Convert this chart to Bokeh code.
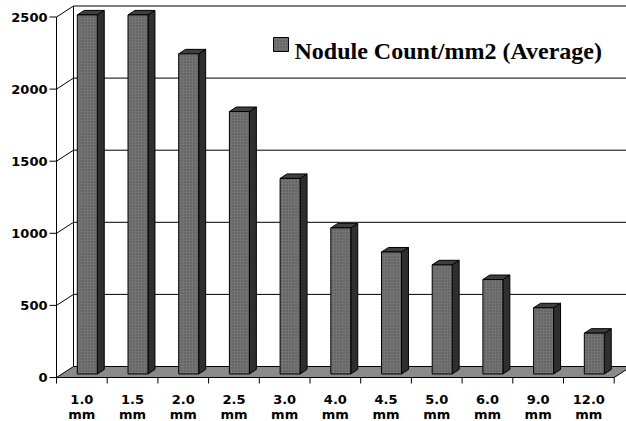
from bokeh.plotting import figure
from bokeh.models import Range1d
from bokeh.core.properties import value
from bokeh.embed import file_html
from bokeh.resources import INLINE

# ---- data ----
categories = ["1.0", "1.5", "2.0", "2.5", "3.0", "4.0", "4.5", "5.0", "6.0", "9.0", "12.0"]
unit_label = "mm"
nodule_count = [2490, 2490, 2220, 1820, 1356, 1013, 846, 757, 655, 459, 283]
y_ticks = [0, 500, 1000, 1500, 2000, 2500]
y_tick_labels = ["0", "500", "1000", "1500", "2000", "2500"]
series_name = "Nodule Count/mm2 (Average)"

# ---- layout constants (pixel geometry of the 3D frame) ----
W, H = 626, 421
X0, Y0 = 56, 377          # front-left corner of the floor (pixels)
SW = 50.7                 # pixels per category slot
K = 0.1442                # pixels per value unit
DX = 17 / SW              # depth offset (slots)
DY = 11 / K               # depth offset (value units)
F0, F1 = 0.32, 0.73       # bar front/back depth fractions
HW = 0.197                # half bar width (slots)
VMAX = y_ticks[-1]
n = len(categories)

def X(px):
    return (px - X0) / SW

def Y(py):
    return (Y0 - py) / K

p = figure(width=W, height=H, output_backend="svg", toolbar_location=None,
           x_range=Range1d(X(0), X(W)), y_range=Range1d(Y(H), Y(0)),
           x_axis_type=None, y_axis_type=None, min_border=0,
           min_border_left=0, min_border_right=0, min_border_top=0, min_border_bottom=0)
p.outline_line_color = None
p.background_fill_color = "white"
p.border_fill_color = "white"

# ---- back wall gridlines and left wall diagonals ----
gx, gy = [], []
for v in y_ticks[1:]:
    gx.append([DX, n + DX + 1]); gy.append([v + DY, v + DY])
    gx.append([0, DX]); gy.append([v, v + DY])
gx.append([DX, DX]); gy.append([DY, VMAX + DY])
gx.append([n + DX, n + DX]); gy.append([DY, VMAX + DY])
p.multi_line(gx, gy, line_color="black", line_width=1)

# ---- floor ----
p.patch([0, n, n + DX, DX], [0, 0, DY, DY], fill_color="#8a8a8a",
        line_color="black", line_width=1)

# ---- bars ----
fx, fy, sx, sy, tx, ty = [], [], [], [], [], []
for i, v in enumerate(nodule_count):
    xl, xr = i + 0.5 - HW, i + 0.5 + HW
    ax, ay = F0 * DX, F0 * DY
    bx, by = F1 * DX, F1 * DY
    fx.append([xl + ax, xr + ax, xr + ax, xl + ax])
    fy.append([ay, ay, v + ay, v + ay])
    sx.append([xr + ax, xr + bx, xr + bx, xr + ax])
    sy.append([ay, by, v + by, v + ay])
    tx.append([xl + ax, xr + ax, xr + bx, xl + bx])
    ty.append([v + ay, v + ay, v + by, v + by])
p.patches(sx, sy, fill_color="#2f2f2f", line_color="black", line_width=1)
p.patches(tx, ty, fill_color="#3f3f3f", line_color="black", line_width=1)
p.patches(fx, fy, fill_color="#747474", hatch_pattern="dot", hatch_color="#505050",
          hatch_scale=3, hatch_weight=1, line_color="black", line_width=1)

# ---- front value axis ----
p.line([0, 0], [0, VMAX], line_color="black", line_width=1)
p.segment(x0=[X(X0 - 7)] * len(y_ticks), y0=y_ticks, x1=[0] * len(y_ticks), y1=y_ticks,
          line_color="black", line_width=1)
p.text(x=[X(47)] * len(y_ticks), y=y_ticks, text=y_tick_labels,
       text_font=value("DejaVu Sans"), text_font_style="bold", text_font_size="13px",
       text_align="right", text_baseline="middle", text_color="black")

# ---- category axis ----
p.segment(x0=list(range(n + 1)), y0=[0] * (n + 1), x1=list(range(n + 1)),
          y1=[Y(Y0 + 6)] * (n + 1), line_color="black", line_width=1)
centers = [i + 0.5 for i in range(n)]
p.text(x=centers, y=[Y(399)] * n, text=categories,
       text_font=value("DejaVu Sans"), text_font_style="bold", text_font_size="13px",
       text_align="center", text_baseline="alphabetic", text_color="black")
p.text(x=centers, y=[Y(414)] * n, text=[unit_label] * n,
       text_font=value("DejaVu Sans"), text_font_style="bold", text_font_size="13px",
       text_align="center", text_baseline="alphabetic", text_color="black")

# ---- legend ----
p.quad(left=[X(273)], right=[X(288)], top=[Y(37)], bottom=[Y(51)],
       fill_color="#747474", hatch_pattern="dot", hatch_color="#505050",
       hatch_scale=3, hatch_weight=1, line_color="black", line_width=1)
p.text(x=[X(294)], y=[Y(50)], text=[series_name],
       text_font=value("Liberation Serif"), text_font_style="bold", text_font_size="24px",
       text_align="left", text_baseline="alphabetic", text_color="black")

open("out.html", "w").write(file_html(p, INLINE))
